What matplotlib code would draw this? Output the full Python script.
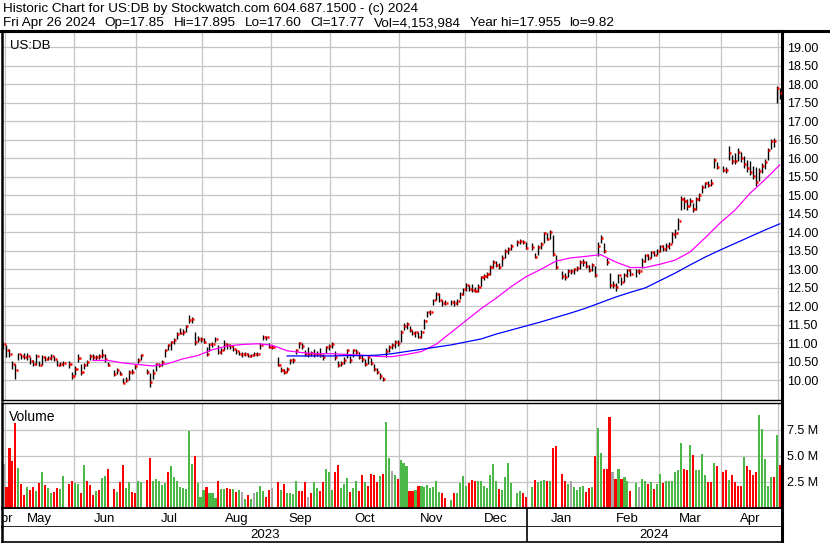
import numpy as np
import pandas as pd
import matplotlib
matplotlib.use("Agg")
import matplotlib.pyplot as plt
from matplotlib.lines import Line2D

W, H = 830, 543
FONT = "Liberation Sans"

first_day = "2023-04-28"
last_day = "2024-04-26"
holidays = ["2023-05-29", "2023-06-19", "2023-07-04", "2023-09-04", "2023-11-23",
            "2023-12-25", "2024-01-01", "2024-01-15", "2024-02-19", "2024-03-29"]

# daily close / high / low, one list per month
close_apr23 = [10.99]
high_apr23 = [11.05]
low_apr23 = [10.85]

close_may = [10.81, 10.70, 10.45, 10.27, 10.70, 10.66, 10.63, 10.66, 10.52, 10.45, 10.65,
             10.41, 10.63, 10.59, 10.61, 10.65, 10.59, 10.42, 10.45, 10.47, 10.43, 10.13]
high_may = [10.95, 10.84, 10.52, 10.45, 10.75, 10.72, 10.75, 10.74, 10.62, 10.56, 10.70,
            10.52, 10.68, 10.66, 10.67, 10.72, 10.66, 10.55, 10.50, 10.52, 10.52, 10.22]
low_may = [10.62, 10.62, 10.32, 10.05, 10.55, 10.58, 10.57, 10.55, 10.45, 10.40, 10.42,
           10.38, 10.42, 10.52, 10.55, 10.55, 10.52, 10.40, 10.38, 10.40, 10.33, 10.05]

close_jun = [10.32, 10.61, 10.23, 10.42, 10.50, 10.65, 10.63, 10.62, 10.66, 10.68, 10.59,
             10.41, 10.18, 10.29, 10.18, 9.93, 10.00, 10.23, 10.23, 10.38, 10.54]
high_jun = [10.40, 10.70, 10.45, 10.48, 10.56, 10.72, 10.70, 10.68, 10.72, 10.86, 10.70,
            10.50, 10.27, 10.33, 10.25, 10.06, 10.08, 10.28, 10.30, 10.45, 10.60]
low_jun = [10.15, 10.50, 10.15, 10.30, 10.38, 10.55, 10.55, 10.55, 10.58, 10.60, 10.50,
           10.38, 10.12, 10.18, 10.14, 9.92, 9.96, 10.02, 10.18, 10.30, 10.48]

close_jul = [10.68, 10.23, 9.95, 10.20, 10.43, 10.41, 10.50, 10.81, 10.95, 11.04, 11.10,
             11.26, 11.28, 11.30, 11.46, 11.64, 11.67, 11.05, 11.13, 11.13]
high_jul = [10.72, 10.32, 10.20, 10.30, 10.47, 10.48, 10.55, 10.85, 10.98, 11.07, 11.14,
            11.30, 11.42, 11.40, 11.50, 11.77, 11.72, 11.30, 11.20, 11.18]
low_jul = [10.55, 10.18, 9.82, 10.05, 10.25, 10.36, 10.40, 10.62, 10.82, 10.82, 10.98,
           11.12, 11.25, 11.22, 11.30, 11.56, 11.55, 10.95, 11.03, 11.05]

close_aug = [11.04, 10.72, 10.97, 10.99, 11.13, 10.77, 10.81, 10.97, 10.95, 10.92, 10.86, 10.79,
             10.72, 10.72, 10.72, 10.65, 10.68, 10.72, 10.72, 10.95, 11.17, 11.17, 10.90]
high_aug = [11.15, 10.90, 11.02, 11.05, 11.18, 10.96, 10.88, 11.08, 11.00, 10.98, 10.93, 10.86,
            10.80, 10.78, 10.76, 10.74, 10.72, 10.78, 10.76, 11.00, 11.22, 11.20, 11.00]
low_aug = [11.00, 10.65, 10.80, 10.90, 11.05, 10.70, 10.72, 10.82, 10.86, 10.85, 10.80, 10.72,
           10.68, 10.64, 10.66, 10.62, 10.62, 10.65, 10.66, 10.86, 11.08, 11.10, 10.88]

close_sep = [10.90, 10.41, 10.29, 10.23, 10.32, 10.54, 10.56, 10.81, 11.01, 10.92,
             10.72, 10.72, 10.74, 10.72, 10.72, 10.69, 10.63, 10.90, 10.92, 10.99]
high_sep = [10.95, 10.62, 10.36, 10.30, 10.36, 10.58, 10.60, 10.86, 11.05, 11.00,
            10.82, 10.90, 10.80, 10.86, 10.80, 10.88, 10.72, 10.94, 10.98, 11.05]
low_sep = [10.84, 10.38, 10.24, 10.18, 10.22, 10.44, 10.48, 10.70, 10.88, 10.84,
           10.66, 10.62, 10.65, 10.64, 10.66, 10.62, 10.55, 10.75, 10.82, 10.88]

close_oct = [10.63, 10.41, 10.47, 10.56, 10.81, 10.54, 10.81, 10.78, 10.63, 10.59, 10.43,
             10.63, 10.47, 10.32, 10.23, 10.13, 10.04, 10.79, 10.90, 10.95, 11.03, 11.00]
high_oct = [10.80, 10.52, 10.52, 10.62, 10.86, 10.65, 10.85, 10.84, 10.76, 10.68, 10.58,
            10.68, 10.60, 10.45, 10.34, 10.20, 10.10, 10.88, 10.96, 11.00, 11.08, 11.10]
low_oct = [10.56, 10.36, 10.38, 10.45, 10.60, 10.48, 10.62, 10.70, 10.58, 10.50, 10.38,
           10.45, 10.42, 10.25, 10.18, 10.05, 9.98, 10.62, 10.78, 10.84, 10.88, 10.92]

close_nov = [11.30, 11.48, 11.52, 11.36, 11.27, 11.30, 11.18, 11.30, 11.61, 11.84, 11.84,
             12.17, 12.33, 12.17, 12.08, 12.08, 12.12, 12.08, 12.15, 12.33, 12.47]
high_nov = [11.35, 11.55, 11.58, 11.48, 11.36, 11.34, 11.32, 11.36, 11.66, 11.88, 11.90,
            12.20, 12.38, 12.36, 12.17, 12.16, 12.18, 12.17, 12.20, 12.40, 12.50]
low_nov = [11.05, 11.35, 11.40, 11.32, 11.22, 11.18, 11.14, 11.15, 11.40, 11.70, 11.78,
           12.05, 12.18, 12.12, 12.02, 12.03, 12.05, 12.02, 12.04, 12.20, 12.30]

close_dec = [12.58, 12.47, 12.45, 12.42, 12.53, 12.78, 12.83, 12.87, 13.07, 13.19,
             13.13, 13.07, 13.32, 13.50, 13.55, 13.64, 13.73, 13.77, 13.73, 13.59]
high_dec = [12.62, 12.58, 12.60, 12.52, 12.60, 12.83, 12.88, 12.92, 13.12, 13.24,
            13.22, 13.17, 13.40, 13.55, 13.60, 13.68, 13.78, 13.82, 13.80, 13.75]
low_dec = [12.42, 12.42, 12.40, 12.38, 12.40, 12.55, 12.72, 12.76, 12.86, 13.05,
           13.06, 13.00, 13.10, 13.30, 13.42, 13.52, 13.62, 13.68, 13.68, 13.55]

close_jan = [13.61, 13.34, 13.61, 13.68, 13.97, 13.82, 14.00, 13.41, 13.07, 12.81, 12.78,
             12.95, 12.95, 13.00, 13.05, 13.19, 13.20, 13.10, 12.98, 13.12, 12.85]
high_jan = [13.70, 13.45, 13.66, 13.74, 14.00, 13.98, 14.06, 13.92, 13.38, 12.95, 12.90,
            13.00, 13.02, 13.05, 13.10, 13.25, 13.28, 13.22, 13.12, 13.18, 13.10]
low_jan = [13.52, 13.30, 13.40, 13.55, 13.72, 13.78, 13.82, 13.36, 13.02, 12.75, 12.70,
           12.80, 12.88, 12.88, 12.95, 13.00, 13.10, 13.05, 12.92, 12.95, 12.80]

close_feb = [13.62, 13.86, 13.50, 13.19, 12.58, 12.58, 12.51, 12.85, 12.65, 12.85,
             12.99, 12.88, 12.95, 12.95, 13.23, 13.39, 13.30, 13.46, 13.40, 13.50]
high_feb = [13.75, 13.92, 13.72, 13.30, 12.90, 12.68, 12.64, 12.88, 12.80, 12.90,
            13.02, 13.00, 13.00, 13.02, 13.30, 13.42, 13.42, 13.50, 13.50, 13.55]
low_feb = [13.35, 13.70, 13.44, 13.12, 12.50, 12.50, 12.42, 12.62, 12.58, 12.66,
           12.80, 12.82, 12.80, 12.88, 13.05, 13.20, 13.25, 13.30, 13.35, 13.38]

close_mar = [13.62, 13.55, 13.62, 13.68, 13.95, 13.98, 14.31, 14.90, 14.85, 14.72,
             14.85, 14.64, 14.90, 15.00, 15.23, 15.33, 15.28, 15.33, 15.95, 15.76]
high_mar = [13.66, 13.65, 13.70, 13.75, 14.00, 14.08, 14.38, 14.98, 14.95, 14.90,
            14.92, 14.80, 14.95, 15.05, 15.28, 15.36, 15.38, 15.45, 16.00, 15.90]
low_mar = [13.48, 13.50, 13.50, 13.55, 13.70, 13.85, 14.05, 14.60, 14.62, 14.60,
           14.70, 14.55, 14.60, 14.85, 15.05, 15.20, 15.22, 15.25, 15.75, 15.70]

close_apr24 = [15.69, 15.68, 16.15, 15.94, 15.93, 16.16, 16.00, 15.85, 15.73, 15.64,
               15.53, 15.37, 15.67, 15.80, 15.91, 16.23, 16.48, 16.47, 17.89, 17.77]
high_apr24 = [15.80, 15.76, 16.32, 16.10, 16.15, 16.28, 16.18, 16.05, 15.95, 15.92,
              15.80, 15.76, 15.74, 15.86, 15.98, 16.28, 16.52, 16.55, 17.955, 17.895]
low_apr24 = [15.62, 15.60, 15.96, 15.85, 15.85, 15.92, 15.90, 15.75, 15.62, 15.55,
             15.45, 15.26, 15.40, 15.60, 15.72, 15.95, 16.25, 16.30, 17.50, 17.60]

# volume in millions, and bar colour code per session (u up, d down, n unchanged)
vol_apr23 = [4.2]
vol_may = [2.0, 5.7, 4.5, 8.1, 3.8, 2.3, 1.25, 2.0, 1.7, 2.05, 1.65, 2.35, 3.4, 2.2, 1.95,
           1.4, 1.55, 1.95, 1.85, 3.1, 2.25, 2.55]
vol_jun = [2.4, 2.3, 1.4, 4.15, 2.6, 2.2, 1.2, 1.65, 1.75, 2.9, 3.05, 3.7, 1.8, 1.55, 2.45,
           4.15, 1.95, 2.5, 1.5, 1.4, 2.6]
vol_jul = [2.5, 2.7, 4.75, 2.6, 2.8, 2.6, 2.2, 2.35, 3.4, 4.05, 2.95, 2.55, 2.05, 1.95, 1.8,
           7.35, 4.25, 4.95, 2.4, 1.1]
vol_aug = [1.75, 2.05, 1.4, 1.45, 1.0, 2.6, 1.8, 1.85, 1.95, 1.8, 1.85, 1.5, 1.75, 1.5, 0.9,
           1.2, 0.9, 1.4, 1.55, 2.15, 1.65, 1.1, 1.75]
vol_sep = [1.95, 2.45, 1.75, 2.25, 1.4, 1.4, 1.3, 2.6, 1.65, 1.65, 2.45, 1.1, 1.4, 2.45, 1.95,
           1.65, 2.45, 3.7, 3.4, 1.75]
vol_oct = [3.4, 4.15, 1.95, 2.25, 2.9, 1.55, 1.95, 2.6, 1.65, 3.2, 2.45, 2.1, 3.3, 3.2, 2.45,
           3.1, 3.3, 8.25, 4.75, 3.5, 3.2, 2.8]
vol_nov = [4.55, 4.35, 4.05, 1.65, 1.65, 1.75, 2.15, 2.15, 2.05, 2.2, 1.95, 2.05, 2.6, 1.5,
           1.4, 1.0, 0.8, 1.4, 1.4, 2.35, 3.1]
vol_dec = [2.15, 2.35, 2.7, 2.55, 2.55, 2.6, 2.15, 1.95, 3.2, 4.25, 2.55, 1.85, 1.75, 3.0,
           4.35, 2.35, 1.4, 1.65, 1.4, 1.1]
vol_jan = [2.05, 2.7, 2.45, 2.55, 2.7, 2.55, 2.6, 5.7, 5.9, 3.3, 2.55, 2.25, 2.55, 2.05,
           1.75, 2.05, 2.15, 1.5, 1.95, 2.05, 4.95]
vol_feb = [7.7, 5.3, 3.7, 3.7, 8.7, 3.4, 2.8, 3.7, 2.8, 3.0, 2.6, 1.65, 2.35, 2.05, 2.8,
           2.6, 2.25, 2.45, 1.85, 2.25]
vol_mar = [3.3, 2.35, 2.6, 2.6, 2.55, 3.4, 3.6, 6.2, 3.7, 3.6, 6.0, 5.05, 3.6, 3.6, 5.2,
           3.2, 2.45, 2.45, 4.35, 4.05]
vol_apr24 = [3.4, 3.6, 2.7, 3.2, 2.45, 2.15, 2.15, 4.85, 4.05, 3.6, 3.2, 3.4, 8.9, 7.6,
             4.65, 2.15, 3.0, 3.0, 6.95, 4.15]

dir_apr23 = "n"
dir_may = "ddddudduddududuudduudd"
dir_jun = "uududdduduuddudduuddu"
dir_jul = "udduuuuuduuuuuuuuduu"
dir_aug = "uduuuduuddudunudunuuudd"
dir_sep = "nduduuuudddnduudduuu"
dir_oct = "dduuuduuddudddduduunud"
dir_nov = "uuudduduuuuuuudduduuu"
dir_dec = "uddduuuuuuuduuuuuudd"
dir_jan = "uduuududdddunuuuuddud"
dir_feb = "uudddnduduudunuududu"
dir_mar = "uduuuuuudduduuuuddud"
dir_apr24 = "dduddddudddduuuuudud"

# moving averages read weekly (Fridays)
ma50_start = "2023-06-09"
ma50 = [10.54, 10.54, 10.47, 10.43, 10.39, 10.45, 10.58, 10.67, 10.83, 10.93, 10.97, 10.99,
        10.95, 10.80, 10.75, 10.72, 10.72, 10.70, 10.68, 10.65, 10.64, 10.70, 10.78, 10.98,
        11.30, 11.62, 11.94, 12.22, 12.53, 12.80, 13.00, 13.22, 13.31, 13.35, 13.40, 13.20,
        13.05, 13.05, 13.14, 13.25, 13.47, 13.85, 14.25, 14.60, 15.05, 15.42, 15.82]
ma200_start = "2023-09-08"
ma200 = [10.66, 10.66, 10.66, 10.66, 10.67, 10.67, 10.68, 10.72, 10.78, 10.84, 10.90, 10.96,
         11.04, 11.12, 11.25, 11.36, 11.47, 11.58, 11.70, 11.82, 11.95, 12.10, 12.25, 12.38,
         12.50, 12.70, 12.90, 13.12, 13.33, 13.52, 13.70, 13.88, 14.06, 14.23]

price_ticks = np.arange(10.0, 19.01, 0.5)
vol_ticks = [2.5, 5.0, 7.5]

title1 = "Historic Chart for US:DB by Stockwatch.com 604.687.1500 - (c) 2024"
title2 = ["Fri Apr 26 2024", "Op=17.85", "Hi=17.895", "Lo=17.60", "Cl=17.77",
          "Vol=4,153,984", "Year hi=17.955", "lo=9.82"]

closes = np.array(close_apr23 + close_may + close_jun + close_jul + close_aug + close_sep
                  + close_oct + close_nov + close_dec + close_jan + close_feb + close_mar + close_apr24)
highs = np.array(high_apr23 + high_may + high_jun + high_jul + high_aug + high_sep
                 + high_oct + high_nov + high_dec + high_jan + high_feb + high_mar + high_apr24)
lows = np.array(low_apr23 + low_may + low_jun + low_jul + low_aug + low_sep
                + low_oct + low_nov + low_dec + low_jan + low_feb + low_mar + low_apr24)
vols = np.array(vol_apr23 + vol_may + vol_jun + vol_jul + vol_aug + vol_sep + vol_oct
                + vol_nov + vol_dec + vol_jan + vol_feb + vol_mar + vol_apr24)
vol_dir = (dir_apr23 + dir_may + dir_jun + dir_jul + dir_aug + dir_sep + dir_oct
           + dir_nov + dir_dec + dir_jan + dir_feb + dir_mar + dir_apr24)

weekdays = pd.bdate_range(first_day, last_day)
sessions = weekdays[~weekdays.isin(pd.to_datetime(holidays))]
assert len(closes) == len(sessions) == len(highs) == len(lows) == len(vols) == len(vol_dir)
pos = weekdays.get_indexer(sessions)

ma50_pos = weekdays.get_indexer(pd.date_range(ma50_start, periods=len(ma50), freq="W-FRI"))
ma200_pos = weekdays.get_indexer(pd.date_range(ma200_start, periods=len(ma200), freq="W-FRI"))

# month boundaries: slot of the last weekday on or before the 1st, minus half a slot
months = pd.date_range("2023-04-01", "2024-05-01", freq="MS")
bounds = [weekdays.searchsorted(m, side="right") - 1 - 0.5 for m in months]
XL, XR = -0.5, 260.6
bounds = [min(max(b, XL), XR) for b in bounds]
grid_x = [b for b in bounds if XL < b < XR]

plt.rcParams["font.family"] = FONT


def box(x0, y0, x1, y1):
    return [x0 / W, 1 - y1 / H, (x1 - x0) / W, (y1 - y0) / H]


def frame(a, top=None, bottom=None):
    for s in a.spines.values():
        s.set_color("black")
    a.spines["left"].set_linewidth(1.8)
    a.spines["right"].set_linewidth(2.2)
    if top is None:
        a.spines["top"].set_visible(False)
    else:
        a.spines["top"].set_linewidth(top)
    a.spines["bottom"].set_linewidth(bottom)


fig = plt.figure(figsize=(W / 100, H / 100), dpi=100)
fig.patch.set_facecolor("white")

gc = "#c4c4c4"
up_c, dn_c, nc_c = "#4cb848", "#ff0000", "#a6a6a6"

# price panel
ax = fig.add_axes(box(2, 31, 781.5, 400))
ax.set_xlim(XL, XR)
ax.set_ylim(9.47, 19.44)
for v in price_ticks:
    ax.axhline(v, color=gc, lw=0.9, zorder=0)
for b in grid_x:
    ax.axvline(b, color=gc, lw=0.9, zorder=0)
ax.vlines(pos, lows, highs, color="black", lw=1.0, zorder=2)
ax.hlines(closes, pos + 0.1, pos + 0.8, color="red", lw=1.8, zorder=3)
ax.plot(ma50_pos, ma50, color="#ff00ff", lw=0.9, zorder=4)
ax.plot(ma200_pos, ma200, color="#0000ff", lw=0.9, zorder=4)
ax.yaxis.tick_right()
ax.set_yticks(price_ticks)
ax.set_yticklabels([f"{v:.2f}" for v in price_ticks], fontsize=9)
ax.tick_params(axis="y", length=0, pad=4)
ax.set_xticks([])
ax.text(0.01, 0.975, "US:DB", transform=ax.transAxes, fontsize=9.5, va="top", ha="left")
frame(ax, top=2.2, bottom=1.0)

# volume panel
axv = fig.add_axes(box(2, 402.5, 781.5, 508))
axv.set_xlim(XL, XR)
axv.set_ylim(0, 10.1)
for v in vol_ticks:
    axv.axhline(v, color=gc, lw=0.9, zorder=0)
for b in grid_x:
    axv.axvline(b, color=gc, lw=0.9, zorder=0)
cmap = {"u": up_c, "d": dn_c, "n": nc_c}
axv.bar(pos, vols, width=0.7, color=[cmap[c] for c in vol_dir], zorder=2)
axv.yaxis.tick_right()
axv.set_yticks(vol_ticks)
axv.set_yticklabels([f"{v:.1f} M" for v in vol_ticks], fontsize=9)
axv.tick_params(axis="y", length=0, pad=4)
axv.set_xticks([])
axv.text(0.009, 0.93, "Volume", transform=axv.transAxes, fontsize=10, va="top", ha="left")
frame(axv, top=1.0, bottom=2.0)

# month row
axm = fig.add_axes(box(2, 509, 781.5, 527))
axm.set_xlim(XL, XR)
axm.set_ylim(0, 1)
axm.set_xticks([])
axm.set_yticks([])
for i, m in enumerate(months[:-1]):
    c = (bounds[i] + bounds[i + 1]) / 2
    axm.text(c, 0.45, m.strftime("%b"), ha="center", va="center", fontsize=9.5, clip_on=True)
jan_b = bounds[list(months).index(pd.Timestamp("2024-01-01"))]
axm.axvline(jan_b, color="black", lw=1.2)
frame(axm, bottom=1.2)

# year row
axy = fig.add_axes(box(2, 527, 781.5, 542))
axy.set_xlim(XL, XR)
axy.set_ylim(0, 1)
axy.set_xticks([])
axy.set_yticks([])
axy.text((XL + jan_b) / 2, 0.45, "2023", ha="center", va="center", fontsize=9.5)
axy.text((jan_b + XR) / 2, 0.45, "2024", ha="center", va="center", fontsize=9.5)
axy.axvline(jan_b, color="black", lw=1.2)
frame(axy, bottom=1.2)

# header: second line laid out field by field with a 9 px gap
fig.text(3 / W, 1 - 9 / H, title1, fontsize=9.7, va="center", ha="left")
renderer = fig.canvas.get_renderer()
x = 3.0
for t in title2:
    txt = fig.text(x / W, 1 - 23 / H, t, fontsize=9.7, va="center", ha="left")
    x += txt.get_window_extent(renderer).width + 9
fig.add_artist(Line2D([0, 1], [1 - 30.5 / H] * 2, color="black", lw=2.2))

fig.savefig("out.png", dpi=100)
